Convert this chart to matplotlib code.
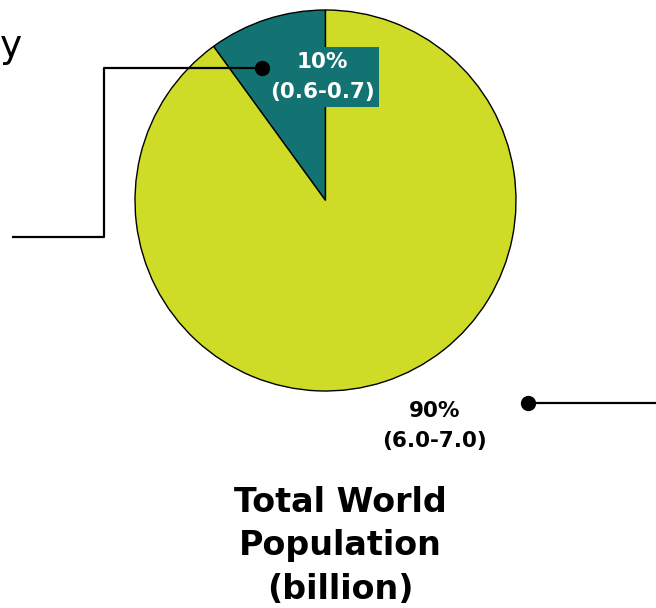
import matplotlib
matplotlib.use("Agg")
import matplotlib.pyplot as plt

# ---- data
shares = [10, 90]                      # percent of total world population
ranges = ["0.6-0.7", "6.0-7.0"]        # billion
colors = ["#137373", "#cfdc27"]
title = "Total World\nPopulation\n(billion)"

W, H = 656, 608
fig = plt.figure(figsize=(W / 100, H / 100), dpi=100)
ax = fig.add_axes([0, 0, 1, 1])


def py(y):
    # pixel row (from top) -> data y
    return H - y


ax.pie(shares, colors=colors, startangle=90, counterclock=True,
       center=(325.5, py(200.5)), radius=190.5,
       wedgeprops=dict(edgecolor="black", linewidth=1.0))
ax.set_xlim(0, W)
ax.set_ylim(0, H)
ax.set_aspect("equal")
ax.axis("off")

# slice labels
ax.text(322, py(77), f"{shares[0]}%\n({ranges[0]})", ha="center", va="center",
        fontsize=15.5, fontweight="bold", color="white", linespacing=1.65,
        bbox=dict(boxstyle="square,pad=0.2", fc=colors[0], ec="none"))
ax.text(435, py(426), f"{shares[1]}%\n({ranges[1]})", ha="center", va="center",
        fontsize=15.5, fontweight="bold", color="black", linespacing=1.65)

# connector lines
ax.plot([262, 104, 104, 12], [py(68), py(68), py(237), py(237)],
        color="black", lw=1.6, solid_capstyle="butt", zorder=5)
ax.plot([262], [py(68)], "o", color="black", ms=10, zorder=6)
ax.plot([528, W], [py(403), py(403)], color="black", lw=1.6, zorder=5)
ax.plot([528], [py(403)], "o", color="black", ms=10, zorder=6)

# cut-off label fragment at top left
ax.text(0, py(47), "y", ha="left", va="center", fontsize=27, color="black")

ax.text(340, py(546), title, ha="center", va="center", fontsize=24,
        fontweight="bold", color="black", linespacing=1.4)

fig.savefig("out.png", dpi=100)
